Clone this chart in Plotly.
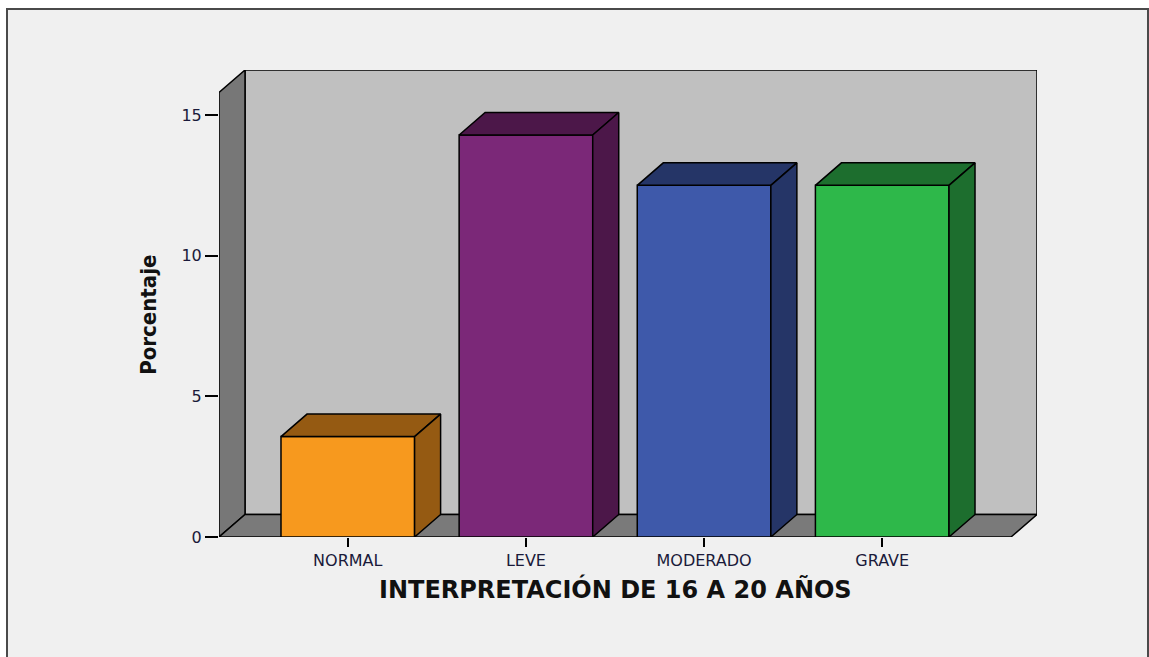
import plotly.graph_objects as go

# Percentage of respondents aged 16-20 in each interpretation band
categories = ["NORMAL", "LEVE", "MODERADO", "GRAVE"]
percentages = [3.57, 14.29, 12.50, 12.50]
y_ticks = [0, 5, 10, 15]

front_colors = ["#f7991e", "#7b2878", "#3e59aa", "#2eb84a"]
shade_colors = ["#955a12", "#4c1749", "#253567", "#1d6e2e"]

# Pseudo-3D geometry (category units horizontally, percent units vertically)
DX, DY = 0.146, 0.8          # depth offset of the back plane
BAR_W = 0.75
X_LO, X_HI = -0.723, 3.723   # front edge of the floor
Y_TOP = 15.8                 # front edge of the left wall top

W, H = 1149, 657
ML, MR, MT, MB = 219, 112, 70, 120
PW, PH = W - ML - MR, H - MT - MB


def px_x(p):
    return (p - ML) / PW


def px_y(p):
    return (H - MB - p) / PH


def poly(pts):
    return "M " + " L ".join(f"{x},{y}" for x, y in pts) + " Z"


edge = dict(color="black", width=1.5)
wall_shapes = [
    # page frame
    dict(type="rect", xref="paper", yref="paper", layer="below",
         x0=px_x(7), x1=px_x(1148), y0=px_y(700), y1=px_y(9),
         fillcolor="#f0f0f0", line=dict(color="#4a4a4a", width=2)),
    # back wall
    dict(type="path", xref="x", yref="y", layer="below",
         path=poly([(X_LO + DX, DY), (X_HI + DX, DY),
                    (X_HI + DX, Y_TOP + DY), (X_LO + DX, Y_TOP + DY)]),
         fillcolor="#c0c0c0", line=edge),
    # left wall
    dict(type="path", xref="x", yref="y", layer="below",
         path=poly([(X_LO, 0), (X_LO + DX, DY),
                    (X_LO + DX, Y_TOP + DY), (X_LO, Y_TOP)]),
         fillcolor="#777777", line=edge),
    # floor
    dict(type="path", xref="x", yref="y", layer="below",
         path=poly([(X_LO, 0), (X_HI, 0), (X_HI + DX, DY), (X_LO + DX, DY)]),
         fillcolor="#7a7a7a", line=edge),
]

fig = go.Figure()

xs = list(range(len(categories)))
fig.add_trace(go.Bar(
    x=xs, y=percentages, width=BAR_W,
    marker=dict(color=front_colors, line=edge),
    hovertext=categories, hoverinfo="text+y", showlegend=False,
))

# top and right faces of each bar
for i, v in enumerate(percentages):
    l, r = i - BAR_W / 2, i + BAR_W / 2
    top = [(l, v), (r, v), (r + DX, v + DY), (l + DX, v + DY), (l, v)]
    side = [(r, 0), (r + DX, DY), (r + DX, v + DY), (r, v), (r, 0)]
    for face in (top, side):
        fig.add_trace(go.Scatter(
            x=[p[0] for p in face], y=[p[1] for p in face],
            mode="lines", fill="toself", fillcolor=shade_colors[i],
            line=edge, hoverinfo="skip", showlegend=False,
        ))

tick_font = dict(family="DejaVu Sans, sans-serif", size=16, color="#1a1a3a")

fig.update_layout(
    width=W, height=H,
    margin=dict(l=ML, r=MR, t=MT, b=MB, autoexpand=False),
    paper_bgcolor="white",
    plot_bgcolor="rgba(0,0,0,0)",
    shapes=wall_shapes,
    xaxis=dict(
        range=[X_LO, X_HI + DX], tickmode="array", tickvals=xs,
        ticktext=categories, ticks="outside", ticklen=9, tickwidth=1.5,
        tickcolor="black", showgrid=False, zeroline=False, showline=False,
        tickfont=tick_font, fixedrange=True,
    ),
    yaxis=dict(
        range=[0, Y_TOP + DY], tickmode="array", tickvals=y_ticks,
        ticks="outside", ticklen=13, tickwidth=1.5, tickcolor="black",
        showgrid=False, zeroline=False, showline=False,
        tickfont=tick_font, fixedrange=True,
    ),
    annotations=[
        dict(text="<b>INTERPRETACIÓN DE 16 A 20 AÑOS</b>",
             x=1.5, xref="x", y=px_y(589), yref="paper",
             xanchor="center", yanchor="middle", showarrow=False,
             font=dict(family="DejaVu Sans, sans-serif", size=24,
                       color="#111111")),
        dict(text="<b>Porcentaje</b>",
             x=px_x(149), xref="paper", y=Y_TOP / 2, yref="y",
             xanchor="center", yanchor="middle", textangle=-90,
             showarrow=False,
             font=dict(family="DejaVu Sans Condensed, sans-serif",
                       size=22, color="#111111")),
    ],
)

fig.write_html("out.html")
